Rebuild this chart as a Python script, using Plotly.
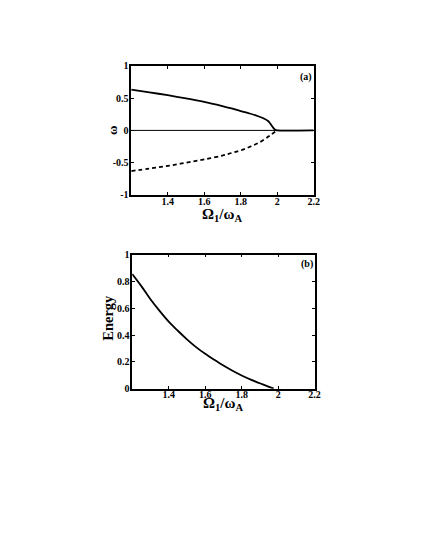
import plotly.graph_objects as go

# panel (a): frequency branches vs Omega_1/omega_A
x_w = [1.2, 1.3, 1.4, 1.5, 1.6, 1.7, 1.75, 1.8, 1.85, 1.9, 1.93, 1.95, 1.96, 1.97, 1.98, 1.99, 2.0, 2.2]
w_upper = [0.63, 0.59, 0.545, 0.495, 0.44, 0.375, 0.34, 0.30, 0.262, 0.215, 0.18, 0.145, 0.115, 0.075, 0.035, 0.008, 0.0, 0.0]
x_wl = [1.2, 1.3, 1.4, 1.5, 1.6, 1.7, 1.75, 1.8, 1.85, 1.9, 1.95, 1.97, 2.0]
w_lower = [-0.63, -0.59, -0.55, -0.50, -0.45, -0.39, -0.35, -0.31, -0.255, -0.19, -0.10, -0.06, 0.0]

# panel (b): energy
x_e = [1.2, 1.25, 1.3, 1.35, 1.4, 1.45, 1.5, 1.55, 1.6, 1.65, 1.7, 1.75, 1.8, 1.85, 1.9, 1.95, 1.976]
energy = [0.855, 0.765, 0.667, 0.58, 0.50, 0.432, 0.368, 0.31, 0.26, 0.215, 0.172, 0.133, 0.098, 0.067, 0.04, 0.013, 0.0]

x_ticks = [1.4, 1.6, 1.8, 2, 2.2]
x_ticktext = ["1.4", "1.6", "1.8", "2", "2.2"]
ya_ticks = [-1, -0.5, 0, 0.5, 1]
ya_ticktext = ["-1", "-0.5", "0", "0.5", "1"]
yb_ticks = [0, 0.2, 0.4, 0.6, 0.8, 1]
yb_ticktext = ["0", "0.2", "0.4", "0.6", "0.8", "1"]

# page offset compensation (pixels measured on the reference)
DX, DY = 5, 9
def fx(px):
    return (px - DX) / 425
def fy(py):
    return 1 - (py - DY) / 550

font = "Liberation Serif"
tickfont = dict(family=font, size=10, color="black", weight="bold")

fig = go.Figure()
fig.add_trace(go.Scatter(x=[1.2, 2.2], y=[0, 0], mode="lines",
                         line=dict(color="black", width=1), xaxis="x", yaxis="y"))
fig.add_trace(go.Scatter(x=x_w, y=w_upper, mode="lines",
                         line=dict(color="black", width=1.8, shape="spline", smoothing=0.6),
                         xaxis="x", yaxis="y"))
fig.add_trace(go.Scatter(x=x_wl, y=w_lower, mode="lines",
                         line=dict(color="black", width=1.8, dash="4px,3px", shape="spline"),
                         xaxis="x", yaxis="y"))
fig.add_trace(go.Scatter(x=x_e, y=energy, mode="lines",
                         line=dict(color="black", width=1.8, shape="spline"), xaxis="x2", yaxis="y2"))

axis_common = dict(showline=True, linecolor="black", linewidth=1.5, mirror="ticks",
                   ticks="inside", ticklen=3, tickcolor="black", showgrid=False,
                   zeroline=False, tickfont=tickfont)

fig.update_layout(
    width=425, height=550,
    paper_bgcolor="white", plot_bgcolor="white",
    showlegend=False,
    margin=dict(l=0, r=0, t=0, b=0),
    xaxis=dict(domain=[fx(130), fx(315)], range=[1.2, 2.2], anchor="y",
               tickvals=x_ticks, ticktext=x_ticktext, ticklabelstandoff=-4, **axis_common),
    yaxis=dict(domain=[fy(194), fy(62)], range=[-1, 1], anchor="x",
               tickvals=ya_ticks, ticktext=ya_ticktext, ticklabelstandoff=-1, **axis_common),
    xaxis2=dict(domain=[fx(131), fx(316)], range=[1.2, 2.2], anchor="y2",
                tickvals=x_ticks, ticktext=x_ticktext, ticklabelstandoff=-4, **axis_common),
    yaxis2=dict(domain=[fy(392), fy(255)], range=[0, 1], anchor="x2",
                tickvals=yb_ticks, ticktext=yb_ticktext, ticklabelstandoff=-1, **axis_common),
)

def label(text, px, py, size, angle=0):
    fig.add_annotation(text=text, x=fx(px), y=fy(py), xref="paper", yref="paper",
                       xanchor="center", yanchor="middle", showarrow=False, textangle=angle,
                       font=dict(family=font, size=size, color="black", weight="bold"))

xt = "Ω<sub>1</sub>/ω<sub>A</sub>"
label(xt, 222, 214, 15)
label(xt, 223, 408, 15)
label("ω", 111, 128, 13, -90)
label("Energy", 107, 320, 14.5, -90)
label("(a)", 307, 73, 10)
label("(b)", 308, 265, 10)

fig.write_html("out.html")
